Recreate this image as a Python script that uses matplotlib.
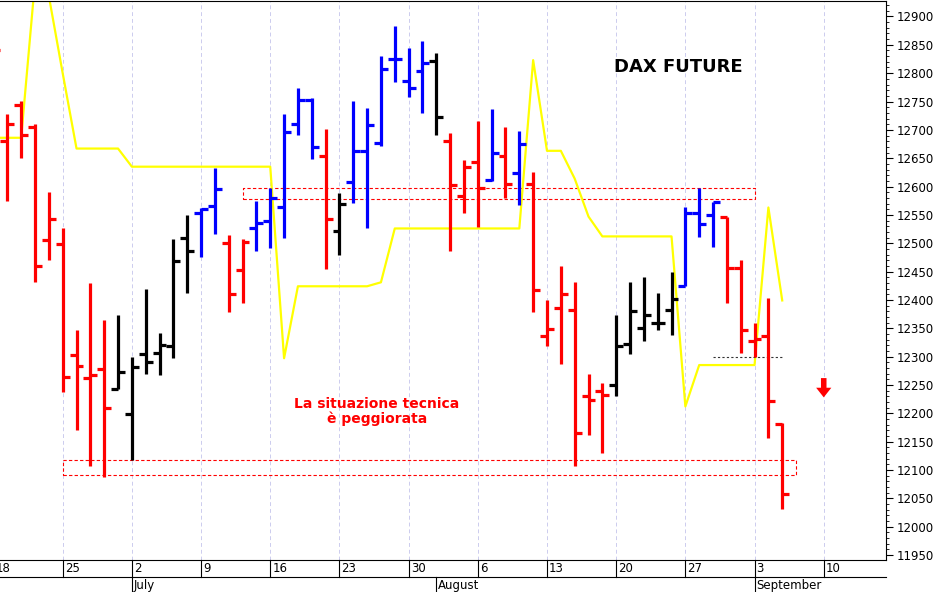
import matplotlib
matplotlib.use("Agg")
import matplotlib.pyplot as plt
from matplotlib.ticker import MultipleLocator

opens  = [12860,12681,12744,12705,12505,12498,12302,12262,12278,12243,12198,12304,12306,12318,12510,12553,12566,12500,12452,12526,
          12540,12563,12711,12753,12654,12521,12608,12663,12677,12825,12786,12804,12822,12681,12584,12644,12612,12653,12623,12604,
          12337,12385,12383,12230,12240,12250,12323,12350,12359,12383,12424,12554,12549,12547,12457,12327,12337,12181]
highs  = [12880,12728,12751,12711,12591,12526,12346,12430,12364,12374,12299,12419,12341,12508,12549,12562,12632,12514,12507,12575,
          12598,12728,12774,12756,12702,12589,12751,12739,12830,12883,12844,12857,12836,12695,12646,12716,12737,12705,12698,12625,
          12399,12460,12432,12270,12253,12373,12431,12440,12412,12449,12563,12597,12572,12547,12470,12359,12404,12183]
lows   = [12800,12575,12651,12432,12470,12237,12170,12107,12088,12243,12117,12270,12267,12297,12413,12475,12517,12378,12394,12486,
          12492,12510,12691,12649,12455,12479,12571,12526,12672,12784,12758,12730,12691,12486,12554,12529,12610,12580,12567,12378,
          12318,12287,12107,12161,12130,12230,12304,12327,12346,12338,12424,12511,12494,12394,12306,12299,12156,12031]
closes = [12841,12711,12691,12460,12543,12264,12283,12267,12209,12273,12281,12290,12320,12469,12487,12561,12596,12410,12502,12536,
          12579,12696,12753,12670,12543,12570,12663,12709,12808,12825,12774,12818,12723,12602,12635,12598,12660,12604,12675,12417,
          12348,12410,12165,12223,12232,12318,12381,12374,12359,12401,12553,12534,12572,12457,12346,12331,12222,12058]
colors = (["red"]*9 + ["black"]*6 + ["blue"]*2 + ["red"]*2 + ["blue"]*5 + ["red"] + ["black"] + ["blue"]*6 + ["black"]
          + ["red"]*3 + ["blue"] + ["red"] + ["blue"] + ["red"]*6 + ["black"]*5 + ["blue"]*3 + ["red"]*5)
stop_line = [12686,12686,12686,12962,12936,12800,12667,12667,12667,12667,12635,12635,12635,12635,12635,12635,12635,12635,12635,12635,
             12635,12297,12424,12424,12424,12424,12424,12424,12431,12526,12526,12526,12526,12526,12526,12526,12526,12526,12526,12823,
             12663,12663,12614,12547,12512,12512,12512,12512,12512,12512,12212,12285,12285,12285,12285,12285,12563,12399]
week_labels = ["18","25","2","9","16","23","30","6","13","20","27","3","10"]
week_idx = [0,5,10,15,20,25,30,35,40,45,50,55,60]
months = ["July","August","September"]
month_idx = [10,32,55]

fig = plt.figure(figsize=(9.35,5.92), dpi=100)
ax = fig.add_axes([0.0, 0.054, 0.9476, 0.944])
ax.set_xlim(0.47, 64.5)
ax.set_ylim(11941, 12927)

for i,(o,h,l,c,col) in enumerate(zip(opens,highs,lows,closes,colors)):
    ax.plot([i,i],[l,h],color=col,lw=2.3,solid_capstyle="butt",zorder=3)
    ax.plot([i-0.5,i],[o,o],color=col,lw=2.3,solid_capstyle="butt",zorder=3)
    ax.plot([i,i+0.5],[c,c],color=col,lw=2.3,solid_capstyle="butt",zorder=3)

ax.plot(range(len(stop_line)), stop_line, color="#ffff00", lw=1.6, zorder=2)

def box(x0,x1,y0,y1,col="red"):
    ax.plot([x0,x1,x1,x0,x0],[y0,y0,y1,y1,y0],color=col,lw=0.8,ls=(0,(3,2)),zorder=1)
box(18.0,55.0,12578,12598)
box(5.0,58.0,12091,12118)
ax.plot([52,57],[12300,12300],color="#333333",lw=0.8,ls=(0,(2,2)))

for w in week_idx:
    ax.axvline(w,color="#ccccee",lw=0.7,ls=(0,(4,3)),zorder=0)

ax.text(49.5,12810,"DAX FUTURE",fontsize=13,fontweight="bold",ha="center",va="center")
ax.text(27.7,12203,"La situazione tecnica\nè peggiorata",fontsize=10,fontweight="bold",color="red",
        ha="center",va="center",linespacing=1.1)
ax.fill([59.8,60.2,60.2,60.55,60,59.45,59.8],[12262,12262,12245,12245,12228,12245,12245],color="red",lw=0)

ax.yaxis.tick_right()
ax.yaxis.set_minor_locator(MultipleLocator(10))
ax.set_yticks(range(11950,12901,50))
ax.tick_params(axis="y",which="major",length=5,labelsize=8.5,pad=3)
ax.tick_params(axis="y",which="minor",length=2.5)
ax.set_xticks([])
ax.spines["left"].set_visible(False)

tr = ax.get_xaxis_transform()
for w,lab in zip(week_idx,week_labels):
    ax.plot([w,w],[0,-0.03],transform=tr,color="black",lw=0.8,clip_on=False)
    ax.text(w+0.15,-0.015,lab,transform=tr,fontsize=8.5,va="center",ha="left",clip_on=False)
ax.plot([0.47,64.5],[-0.03,-0.03],transform=tr,color="black",lw=0.8,clip_on=False)
for m,lab in zip(month_idx,months):
    ax.plot([m,m],[-0.03,-0.06],transform=tr,color="black",lw=0.8,clip_on=False)
    ax.text(m+0.15,-0.045,lab,transform=tr,fontsize=8.5,va="center",ha="left",clip_on=False)

fig.savefig("out.png",dpi=100)
